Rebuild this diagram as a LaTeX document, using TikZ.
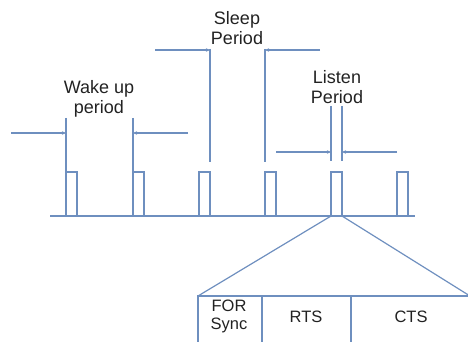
\documentclass[tikz,border=0pt]{standalone}
\usepackage{fontspec}
\setmainfont{Liberation Sans}
\usetikzlibrary{arrows.meta}
\definecolor{ln}{HTML}{6E8FBF}
\definecolor{tx}{HTML}{222222}
\begin{document}
\begin{tikzpicture}[x=1pt,y=-1pt,
  wire/.style={draw=ln,line width=1.2pt},
  marker/.style={wire,-{Stealth[length=4pt,width=3.5pt]}},
  lbl/.style={align=center,text=tx,font=\fontsize{18}{19.5}\selectfont,inner sep=0pt},
  blbl/.style={align=center,text=tx,font=\fontsize{16.5}{18}\selectfont,inner sep=0pt}]
\useasboundingbox (0,0) rectangle (468,342);
\clip (0,0) rectangle (468,342);
% baseline
\coordinate (b0) at (50,216);
\coordinate (b1) at (415,216);
\draw[wire] (b0) -- (b1);
% pulses
\foreach \x [count=\i] in {66,133,199,265,331,397}{
  \draw[wire] (\x,216) -- (\x,172) -- (\x+11,172) -- (\x+11,216);
}
% wake up period
\coordinate (w1t) at (66,118); \coordinate (w1b) at (66,172);
\coordinate (w2t) at (133,118); \coordinate (w2b) at (133,172);
\draw[wire] (w1t) -- (w1b);
\draw[wire] (w2t) -- (w2b);
\coordinate (wa1) at (11,133); \coordinate (wa1e) at (66,133);
\coordinate (wa2) at (188,133); \coordinate (wa2e) at (133,133);
\draw[marker] (wa1) -- (wa1e);
\draw[marker] (wa2) -- (wa2e);
\node[lbl] (wake) at (99,99) {Wake up\\period};
% sleep period
\coordinate (s1t) at (210,49); \coordinate (s1b) at (210,162);
\coordinate (s2t) at (265,49); \coordinate (s2b) at (265,162);
\draw[wire] (s1t) -- (s1b);
\draw[wire] (s2t) -- (s2b);
\coordinate (sa1) at (155,50); \coordinate (sa1e) at (210,50);
\coordinate (sa2) at (320,50); \coordinate (sa2e) at (265,50);
\draw[marker] (sa1) -- (sa1e);
\draw[marker] (sa2) -- (sa2e);
\node[lbl] (sleep) at (237,28) {Sleep\\Period};
% listen period
\coordinate (l1t) at (331,106); \coordinate (l1b) at (331,161);
\coordinate (l2t) at (342,106); \coordinate (l2b) at (342,161);
\draw[wire] (l1t) -- (l1b);
\draw[wire] (l2t) -- (l2b);
\coordinate (la1) at (276,152); \coordinate (la1e) at (331,152);
\coordinate (la2) at (397,152); \coordinate (la2e) at (342,152);
\draw[marker] (la1) -- (la1e);
\draw[marker] (la2) -- (la2e);
\node[lbl] (listen) at (337,87) {Listen\\Period};
% expansion
\coordinate (e1) at (331,216); \coordinate (e2) at (342,216);
\coordinate (bx1) at (198,296); \coordinate (bx2) at (470,296);
\draw[wire] (e1) -- (bx1);
\draw[wire] (e2) -- (bx2);
% frame box
\draw[wire] (198,343) -- (198,296) -- (470,296);
\draw[wire] (262,296) -- (262,343);
\draw[wire] (351,296) -- (351,343);
\node[blbl] (sync) at (229,316) {FOR\\Sync};
\node[blbl] (rts) at (306,317) {RTS};
\node[blbl] (cts) at (411,317) {CTS};
\end{tikzpicture}
\end{document}
